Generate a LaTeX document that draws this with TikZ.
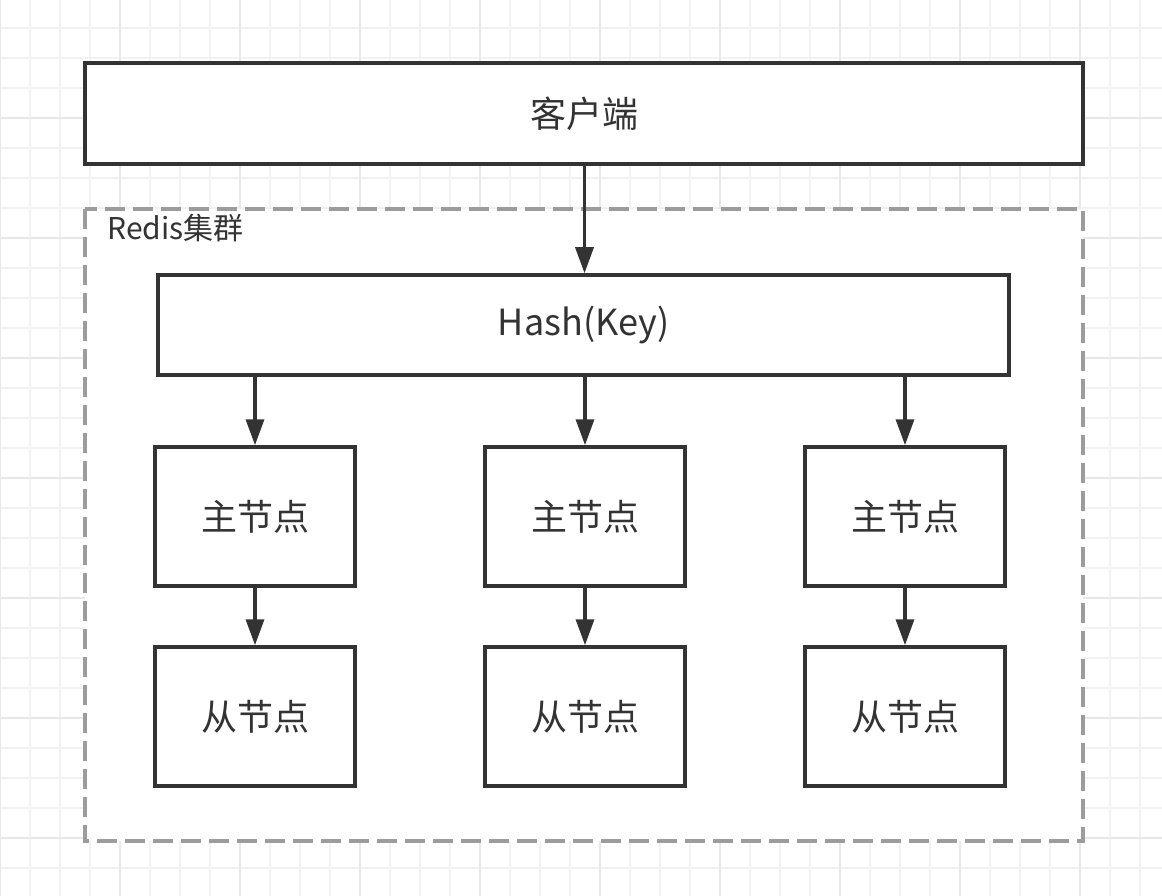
\documentclass[tikz,border=0pt]{standalone}
\usepackage{fontspec}
\setmainfont{Noto Sans CJK SC}
\usetikzlibrary{arrows.meta}
\definecolor{ink}{HTML}{333333}
\definecolor{dashgray}{HTML}{9C9C9C}
\definecolor{gridminor}{HTML}{F2F2F2}
\definecolor{gridmajor}{HTML}{E8E8E8}

\begin{document}
\begin{tikzpicture}[x=1pt,y=-1pt,
    box/.style={draw=ink,line width=3.5pt,fill=white,text=ink,inner sep=0pt,font=\fontsize{36}{42}\selectfont},
    link/.style={->,draw=ink,line width=3.5pt,>={Triangle[length=26pt,width=18pt]}}]
			\useasboundingbox (0,0) rectangle (1162,896);
			\fill[white] (0,0) rectangle (1162,896);
			% background grid
			\foreach \x in {0,30,...,1160} \draw[gridminor,line width=1.5pt] (\x,0) -- (\x,896);
			\foreach \y in {28,58,...,896} \draw[gridminor,line width=1.5pt] (0,\y) -- (1162,\y);
			\foreach \x in {0,120,...,1160} \draw[gridmajor,line width=1.5pt] (\x,0) -- (\x,896);
			\foreach \y in {118,238,...,896} \draw[gridmajor,line width=1.5pt] (0,\y) -- (1162,\y);
			
			\draw[dashgray,fill=white,line width=3.5pt,dash pattern=on 20pt off 8pt] (85,209) rectangle (1083,841);
			\node[anchor=west,text=ink,font=\fontsize{30}{36}\selectfont] (cluster) at (104,228) {Redis集群};
			
			\node[box,minimum width=998pt,minimum height=101pt] (client) at (584,113.5) {客户端};
			\node[box,minimum width=851pt,minimum height=100pt] (hash) at (583.5,325) {Hash(Key)};
			\foreach \n/\x in {a/255,b/585,c/905} {
				\node[box,minimum width=200pt,minimum height=139pt] (master\n) at (\x,516.5) {主节点};
				\node[box,minimum width=200pt,minimum height=139pt] (slave\n) at (\x,716.5) {从节点};
			}
			
			\draw[link] (client.south -| hash.north) ++(1,0) -- ([xshift=1pt]hash.north);
			\foreach \n in {a,b,c} {
				\draw[link] (hash.south -| master\n.north) -- (master\n.north);
				\draw[link] (master\n) -- (slave\n);
			}
\end{tikzpicture}
\end{document}
